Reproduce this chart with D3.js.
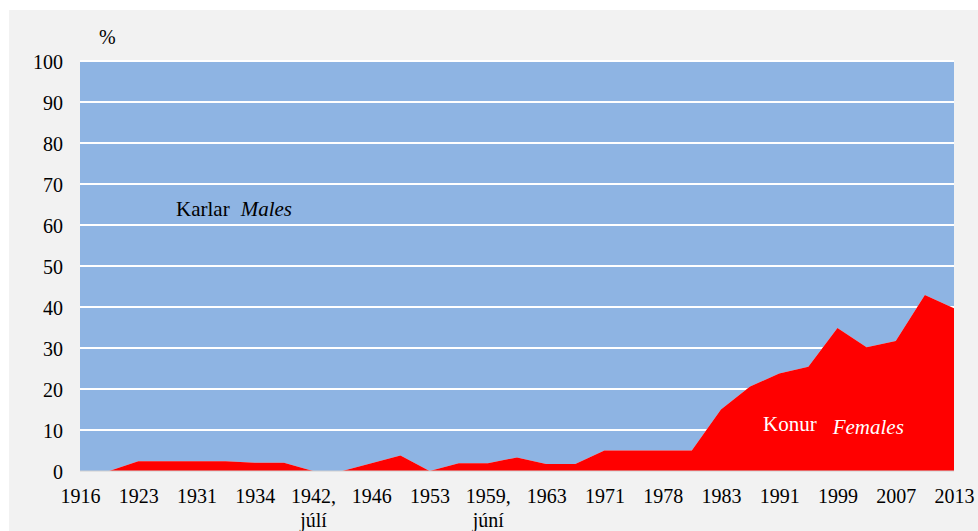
<!DOCTYPE html>
<html>
<head>
<meta charset="utf-8">
<script src="https://cdn.jsdelivr.net/npm/d3@7"></script>
<style>
  body { margin: 0; background: #fff; }
  svg { display: block; }
</style>
</head>
<body>
<div id="chart"></div>
<script>
// elections (Alþingi), share of women elected, %
const elections = ['1916', '1919', '1923', '1927', '1931', '1933', '1934', '1937', '1942|júlí', '1942|okt',
  '1946', '1949', '1953', '1956', '1959|júní', '1959|okt', '1963', '1967', '1971', '1974',
  '1978', '1979', '1983', '1987', '1991', '1995', '1999', '2003', '2007', '2009', '2013']
const females = [0, 0, 2.4, 2.4, 2.4, 2.4, 2.0, 2.0, 0, 0,
  1.9, 3.8, 0, 1.9, 1.9, 3.3, 1.7, 1.7, 5.0, 5.0,
  5.0, 5.0, 15.0, 20.6, 23.8, 25.4, 34.9, 30.2, 31.7, 42.9, 39.7]
const yTicks = [0, 10, 20, 30, 40, 50, 60, 70, 80, 90, 100]

const width = 978, height = 531
const margin = {top: 61, right: 24, bottom: 60, left: 80}
const chartWidth = width - margin.left - margin.right
const chartHeight = height - margin.top - margin.bottom
const font = 'Liberation Serif'

const svg = d3.select('#chart').append('svg')
  .attr('width', width)
  .attr('height', height)
  .attr('font-family', font)
  .attr('font-size', 20)

// grey panel
svg.append('rect')
  .attr('x', 9).attr('y', 10)
  .attr('width', width - 9).attr('height', height - 10)
  .attr('fill', '#f2f2f2')

const g = svg.append('g')
  .attr('transform', 'translate(' + margin.left + ',' + margin.top + ')')

const x = d3.scalePoint().domain(d3.range(elections.length)).range([0, chartWidth])
const y = d3.scaleLinear().domain([0, 100]).range([chartHeight, 0])

// males: from the female share up to 100
g.append('path')
  .datum(females)
  .attr('fill', '#8eb4e3')
  .attr('d', d3.area().x((d, i) => x(i)).y0(y(100)).y1(d => y(d)))

// gridlines
g.selectAll('line.grid')
  .data(yTicks.filter(d => d > 0))
  .enter().append('line')
  .attr('class', 'grid')
  .attr('x1', 0).attr('x2', chartWidth)
  .attr('y1', d => y(d)).attr('y2', d => y(d))
  .attr('stroke', '#fff')
  .attr('stroke-width', 2)

// females
g.append('path')
  .datum(females)
  .attr('fill', '#ff0000')
  .attr('d', d3.area().x((d, i) => x(i)).y0(y(0)).y1(d => y(d)))

// baseline
g.append('line')
  .attr('x1', 0).attr('x2', chartWidth)
  .attr('y1', y(0)).attr('y2', y(0))
  .attr('stroke', '#d0d0d0')
  .attr('stroke-width', 1)

// y axis
const yAxis = g.append('g')
  .call(d3.axisLeft(y).tickValues(yTicks).tickSize(0).tickPadding(17))
yAxis.attr('font-family', font).attr('font-size', 20)
yAxis.select('.domain').remove()
yAxis.selectAll('text').attr('dy', '0.35em').attr('fill', '#000')

// x axis
const xAxis = g.append('g')
  .attr('transform', 'translate(0,' + chartHeight + ')')
  .call(d3.axisBottom(x)
    .tickValues(d3.range(0, elections.length, 2))
    .tickSize(0).tickPadding(0)
    .tickFormat(''))
xAxis.attr('font-family', font).attr('font-size', 20)
xAxis.select('.domain').remove()
xAxis.selectAll('.tick text').each(function(i) {
  const parts = elections[i].split('|')
  const t = d3.select(this).attr('y', 32).attr('dy', null).attr('fill', '#000')
  t.append('tspan').attr('x', 0).text(parts.length > 1 ? parts[0] + ',' : parts[0])
  if (parts.length > 1) t.append('tspan').attr('x', 0).attr('dy', 24).text(parts[1])
})

// labels
svg.append('text')
  .attr('x', 99).attr('y', 44)
  .text('%')

const mLabel = svg.append('text')
  .attr('x', 176).attr('y', 216)
  .attr('font-size', 21)
mLabel.append('tspan').text('Karlar')
mLabel.append('tspan').attr('dx', 11).attr('font-style', 'italic').text('Males')

const fLabel = svg.append('text')
  .attr('x', 763).attr('y', 431)
  .attr('font-size', 21)
  .attr('fill', '#fff')
fLabel.append('tspan').text('Konur')
fLabel.append('tspan').attr('dx', 16).attr('dy', 3).attr('font-style', 'italic').text('Females')
</script>
</body>
</html>
